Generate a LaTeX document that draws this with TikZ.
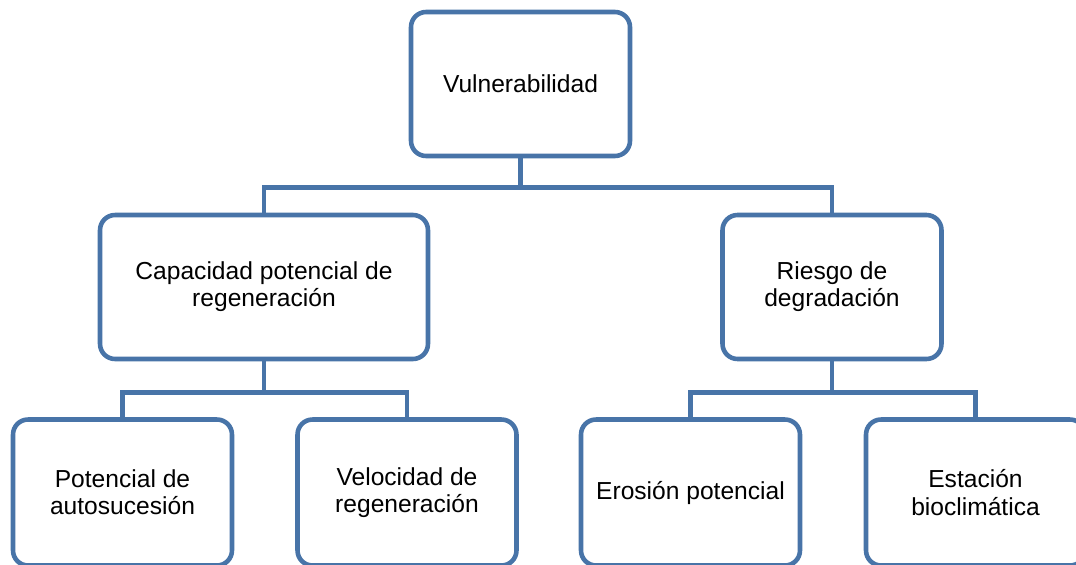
\documentclass[tikz,border=0pt]{standalone}
\usepackage{fontspec}
\setmainfont{Liberation Sans}
\usepackage{tikz}

\definecolor{boxblue}{RGB}{72,116,168}

\begin{document}
\begin{tikzpicture}[x=0.02cm, y=-0.02cm,
    box/.style={draw=boxblue, line width=2.6pt, rounded corners=0.3cm,
      fill=white, align=center, inner sep=0pt,
      minimum width=4.38cm, minimum height=2.88cm,
      font=\fontsize{14}{15.5}\selectfont},
    wide/.style={box, minimum width=6.56cm},
    leaf/.style={box, minimum height=2.92cm},
    conn/.style={draw=boxblue, line width=2.6pt}]
            \useasboundingbox (0,0) rectangle (1076,565);
            \clip (0,0) rectangle (1076,565);

            % Boxes
            \node[box]  (vuln)   at (520.5, 84)  {Vulnerabilidad};
            \node[wide] (cap)    at (264, 287)   {Capacidad potencial de\\regeneraci\'on};
            \node[box]  (riesgo) at (832, 287)   {Riesgo de\\degradaci\'on};
            \node[leaf] (pot)    at (122.5, 492.5) {Potencial de\\autosucesi\'on};
            \node[leaf] (vel)    at (407, 492.5)   {Velocidad de\\regeneraci\'on};
            \node[leaf] (eros)   at (690.5, 492.5) {Erosi\'on potencial};
            \node[leaf] (est)    at (975.5, 492.5) {Estaci\'on\\bioclim\'atica};

            % Connectors
            \draw[conn] (vuln.south) -- ++(0,29) coordinate (top) -| (cap.north);
            \draw[conn] (top) -| (riesgo.north);

            \draw[conn] (cap.south) -- ++(0,31) coordinate (left) -| (pot.north);
            \draw[conn] (left) -| (vel.north);

            \draw[conn] (riesgo.south) -- ++(0,31) coordinate (right) -| (eros.north);
            \draw[conn] (right) -| (est.north);

        \end{tikzpicture}
\end{document}
